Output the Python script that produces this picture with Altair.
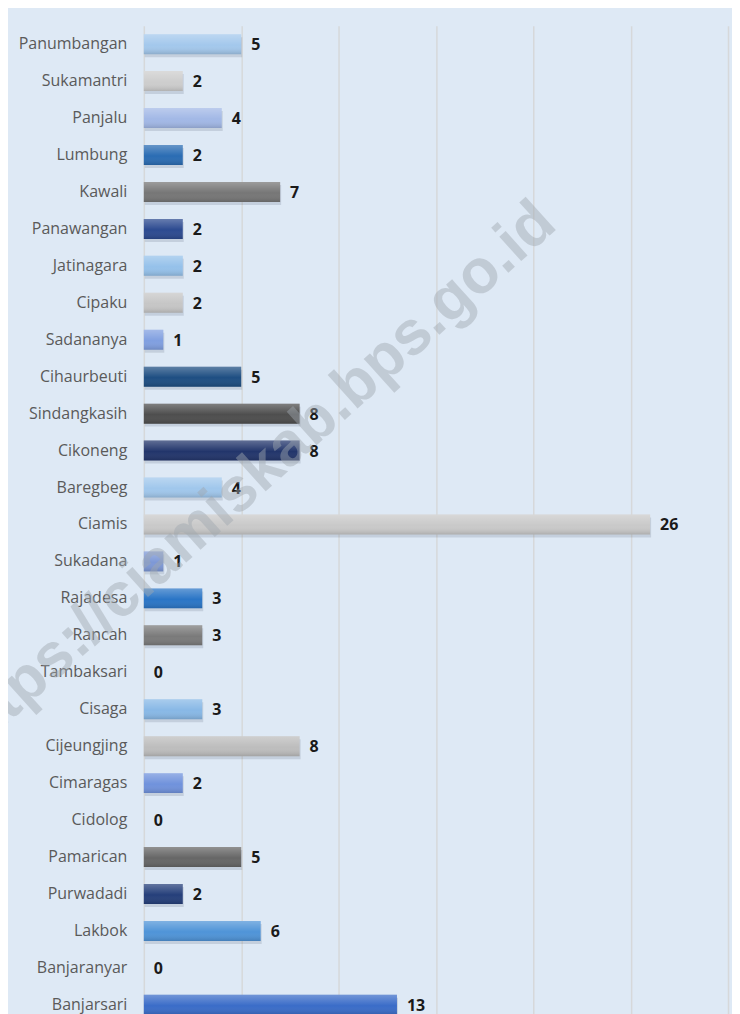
import altair as alt
import pandas as pd

kecamatan = ["Panumbangan", "Sukamantri", "Panjalu", "Lumbung", "Kawali", "Panawangan",
             "Jatinagara", "Cipaku", "Sadananya", "Cihaurbeuti", "Sindangkasih", "Cikoneng",
             "Baregbeg", "Ciamis", "Sukadana", "Rajadesa", "Rancah", "Tambaksari", "Cisaga",
             "Cijeungjing", "Cimaragas", "Cidolog", "Pamarican", "Purwadadi", "Lakbok",
             "Banjaranyar", "Banjarsari"]
jumlah = [5, 2, 4, 2, 7, 2, 2, 2, 1, 5, 8, 8, 4, 26, 1, 3, 3, 0, 3, 8, 2, 0, 5, 2, 6, 0, 13]
warna = ["#a3c8ec", "#cdcdcd", "#a2b8e6", "#2a6cb3", "#767676", "#2c4a90",
         "#95c1ea", "#c6c6c6", "#809fe0", "#1e4e82", "#4e4e4e", "#22356b",
         "#a0c7ec", "#c9c9c9", "#7d98d6", "#2a75c6", "#7a7a7a", "#9cc3e6", "#88b8e6",
         "#bdbdbd", "#7092dc", "#a0a0a0", "#666666", "#253f7a", "#4f94d8",
         "#3a6cc8", "#3a6cc8"]
grid_vals = [0, 5, 10, 15, 20, 25, 30]
watermark = ["https://ciamiskab.bps.go.id"]

df = pd.DataFrame({"kecamatan": kecamatan, "jumlah": jumlah})

FONT = "Open Sans"
STEP = 37

y_enc = alt.Y("kecamatan:N", sort=kecamatan, title=None,
              scale=alt.Scale(paddingInner=0.46, paddingOuter=0.23),
              axis=alt.Axis(ticks=False, domain=False, labelFont=FONT, labelFontSize=16,
                            labelColor="#5a5a5a", labelPadding=17, grid=False))
x_enc = alt.X("jumlah:Q", title=None, scale=alt.Scale(domain=[0, 30], nice=False),
              axis=alt.Axis(values=grid_vals, labels=False, ticks=False, domain=False,
                            grid=True, gridColor="#d6d8da", gridWidth=1.5))

base = alt.Chart(df)

shadow = base.mark_bar(color="#1a2a3a", opacity=0.13, yOffset=3, xOffset=1, size=20).encode(
    x=x_enc, y=y_enc)

bars = base.mark_bar(size=20).encode(
    x=x_enc, y=y_enc,
    color=alt.Color("kecamatan:N", scale=alt.Scale(domain=kecamatan, range=warna), legend=None))

shine = base.mark_bar(size=20, color=alt.Gradient(
    gradient="linear", x1=0, y1=0, x2=0, y2=1,
    stops=[alt.GradientStop(offset=0, color="rgba(255,255,255,0.28)"),
           alt.GradientStop(offset=0.55, color="rgba(255,255,255,0.0)"),
           alt.GradientStop(offset=1, color="rgba(0,0,0,0.14)")])).encode(x=x_enc, y=y_enc)

labels = base.mark_text(align="left", baseline="middle", dx=10, dy=1, font=FONT,
                        fontSize=16, fontWeight="bold", color="#1a1a1a").encode(
    x=x_enc, y=y_enc, text=alt.Text("jumlah:Q"))

wm = alt.Chart(pd.DataFrame({"t": watermark})).mark_text(
    font="Liberation Sans", fontSize=62, fontWeight="bold", angle=318,
    align="center", baseline="middle", color="#a0a8b0", opacity=0.45).encode(
    x=alt.value(106), y=alt.value(455), text="t:N")

chart = alt.layer(shadow, bars, shine, labels, wm).properties(
    width=585, height=STEP * len(kecamatan),
    padding={"left": 136, "top": 17, "right": 4, "bottom": 0},
    autosize=alt.AutoSizeParams(type="none"),
    background="#dee9f5",
).configure_view(stroke=None)

chart.save("out.html", embed_options={"renderer": "svg", "actions": False})
